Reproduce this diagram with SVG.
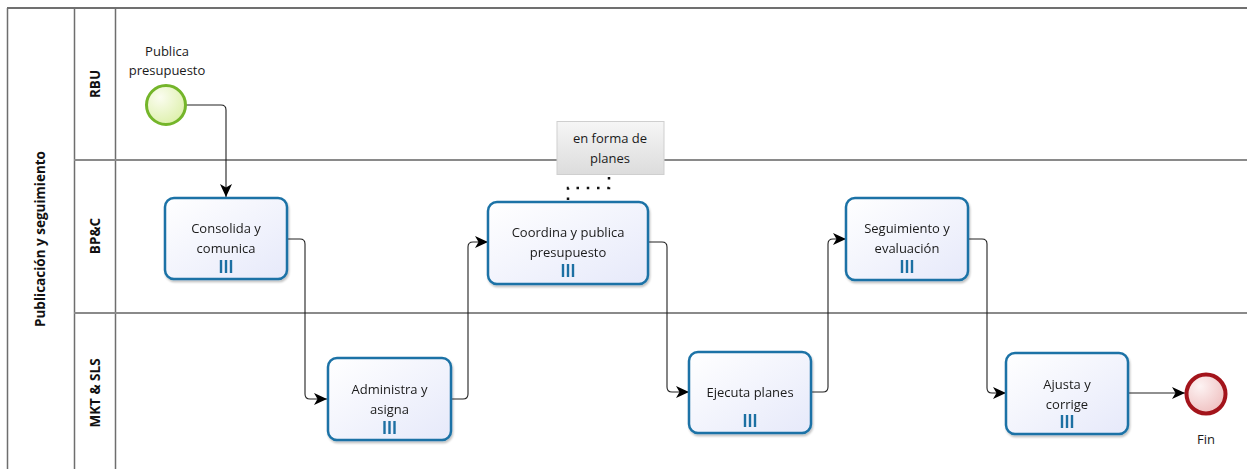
<svg xmlns="http://www.w3.org/2000/svg" width="1247" height="469" viewBox="0 0 1247 469">
  <style>
    .pool { fill: none; stroke: #6e6e6e; stroke-width: 1.5; }
    .lane { stroke: #8a8a8a; stroke-width: 2; fill: none; }
    .lbl { font-family: "Open Sans", "Noto Sans", "DejaVu Sans", sans-serif; font-size: 13.5px; font-weight: bold; fill: #111; text-anchor: middle; }
    .txt { font-family: "Open Sans", "Noto Sans", "DejaVu Sans", sans-serif; font-size: 13px; fill: #1a1a1a; text-anchor: middle; }
    .task { fill: url(#taskFill); stroke: #1a72a6; stroke-width: 2.5; }
    .multi { stroke: #1f6fa3; stroke-width: 2.4; }
    .flow { fill: none; stroke: #222; stroke-width: 1.1; }
    .assoc { fill: none; stroke: #111; stroke-width: 2.5; stroke-dasharray: 2.5 7.75; }
  </style>
  <defs>
    <linearGradient id="taskFill" x1="0" y1="0" x2="1" y2="1">
      <stop offset="0" stop-color="#ffffff"/>
      <stop offset="1" stop-color="#e6e9fa"/>
    </linearGradient>
    <radialGradient id="startFill" cx="0.35" cy="0.3" r="0.8">
      <stop offset="0" stop-color="#fbfdf0"/>
      <stop offset="1" stop-color="#dbefa6"/>
    </radialGradient>
    <radialGradient id="endFill" cx="0.35" cy="0.3" r="0.8">
      <stop offset="0" stop-color="#fdf3f3"/>
      <stop offset="1" stop-color="#eebcbc"/>
    </radialGradient>
    <linearGradient id="noteFill" x1="0" y1="0" x2="0" y2="1">
      <stop offset="0" stop-color="#f6f6f6"/>
      <stop offset="1" stop-color="#dcdcdc"/>
    </linearGradient>
    <filter id="shadow" x="-10%" y="-10%" width="125%" height="130%">
      <feGaussianBlur in="SourceAlpha" stdDeviation="1.2"/>
      <feOffset dx="1" dy="1.5"/>
      <feComponentTransfer><feFuncA type="linear" slope="0.25"/></feComponentTransfer>
      <feMerge><feMergeNode/><feMergeNode in="SourceGraphic"/></feMerge>
    </filter>
    <marker id="arrow" markerUnits="userSpaceOnUse" markerWidth="14" markerHeight="12" refX="13" refY="6" orient="auto">
      <path d="M0,0 L13,6 L0,12 L3.5,6 Z" fill="#000"/>
    </marker>
    <g id="multiMarker">
      <line class="multi" x1="-5" y1="0" x2="-5" y2="13"/>
      <line class="multi" x1="0" y1="0" x2="0" y2="13"/>
      <line class="multi" x1="5" y1="0" x2="5" y2="13"/>
    </g>
  </defs>

  <rect width="1247" height="469" fill="#ffffff"/>

  <!-- pool and lanes -->
  <g id="pool">
    <line x1="7" y1="8" x2="1247" y2="8" stroke="#707070" stroke-width="2"/>
    <line class="pool" x1="7.5" y1="8" x2="7.5" y2="469"/>
    <line class="pool" x1="74.5" y1="8" x2="74.5" y2="469"/>
    <line class="pool" x1="115.5" y1="8" x2="115.5" y2="469"/>
    <line class="lane" x1="74" y1="160" x2="1247" y2="160"/>
    <line class="lane" x1="74" y1="313" x2="1247" y2="313"/>
    <text class="lbl" transform="translate(45,239) rotate(-90)">Publicación y seguimiento</text>
    <text class="lbl" transform="translate(100,84) rotate(-90)">RBU</text>
    <text class="lbl" transform="translate(100,236) rotate(-90)">BP&amp;C</text>
    <text class="lbl" transform="translate(100,393) rotate(-90)">MKT &amp; SLS</text>
  </g>

  <!-- sequence flows -->
  <g id="connectors">
    <path class="flow" d="M186,105 H221 Q226,105 226,110 V197" marker-end="url(#arrow)"/>
    <path class="flow" d="M288,239 H300 Q305,239 305,244 V394 Q305,399 310,399 H327" marker-end="url(#arrow)"/>
    <path class="flow" d="M451,399 H463 Q468,399 468,394 V247 Q468,242 473,242 H488" marker-end="url(#arrow)"/>
    <path class="flow" d="M648,242 H662 Q667,242 667,247 V387 Q667,392 672,392 H689" marker-end="url(#arrow)"/>
    <path class="flow" d="M811,392 H823 Q828,392 828,387 V244 Q828,239 833,239 H846" marker-end="url(#arrow)"/>
    <path class="flow" d="M968,239 H982 Q987,239 987,244 V388 Q987,393 992,393 H1006" marker-end="url(#arrow)"/>
    <path class="flow" d="M1128,393 H1185" marker-end="url(#arrow)"/>
    <path class="assoc" d="M609,177 V188 H568 V201"/>
  </g>

  <!-- annotation -->
  <g id="note">
    <rect x="557" y="121.5" width="107" height="53" fill="url(#noteFill)" stroke="#cfcfcf" stroke-width="1"/>
    <text class="txt" x="610" y="143">en forma de</text>
    <text class="txt" x="610" y="163">planes</text>
  </g>

  <!-- start event -->
  <g id="start">
    <circle cx="166" cy="105" r="19.5" fill="url(#startFill)" stroke="#74b52a" stroke-width="3"/>
    <text class="txt" x="167" y="56">Publica</text>
    <text class="txt" x="167" y="75">presupuesto</text>
  </g>

  <!-- tasks -->
  <g id="task-consolida" filter="url(#shadow)">
    <rect class="task" x="165" y="198" width="122" height="81" rx="9"/>
    <text class="txt" x="226" y="233">Consolida y</text>
    <text class="txt" x="226" y="253">comunica</text>
    <use href="#multiMarker" x="226" y="260"/>
  </g>
  <g id="task-administra" filter="url(#shadow)">
    <rect class="task" x="328" y="358" width="123" height="82" rx="9"/>
    <text class="txt" x="389.5" y="394">Administra y</text>
    <text class="txt" x="389.5" y="414">asigna</text>
    <use href="#multiMarker" x="389.5" y="421"/>
  </g>
  <g id="task-coordina" filter="url(#shadow)">
    <rect class="task" x="488" y="202" width="160" height="82" rx="9"/>
    <text class="txt" x="568" y="237">Coordina y publica</text>
    <text class="txt" x="568" y="257">presupuesto</text>
    <use href="#multiMarker" x="568" y="264"/>
  </g>
  <g id="task-ejecuta" filter="url(#shadow)">
    <rect class="task" x="689" y="352" width="122" height="81" rx="9"/>
    <text class="txt" x="750" y="397">Ejecuta planes</text>
    <use href="#multiMarker" x="750" y="414"/>
  </g>
  <g id="task-seguimiento" filter="url(#shadow)">
    <rect class="task" x="846" y="198" width="122" height="82" rx="9"/>
    <text class="txt" x="907" y="233">Seguimiento y</text>
    <text class="txt" x="907" y="253">evaluación</text>
    <use href="#multiMarker" x="907" y="260"/>
  </g>
  <g id="task-ajusta" filter="url(#shadow)">
    <rect class="task" x="1006" y="353" width="122" height="81" rx="9"/>
    <text class="txt" x="1067" y="389">Ajusta y</text>
    <text class="txt" x="1067" y="409">corrige</text>
    <use href="#multiMarker" x="1067" y="415"/>
  </g>

  <!-- end event -->
  <g id="end">
    <circle cx="1206" cy="394" r="19.5" fill="url(#endFill)" stroke="#a3141b" stroke-width="4"/>
    <text class="txt" x="1206" y="444">Fin</text>
  </g>
</svg>
